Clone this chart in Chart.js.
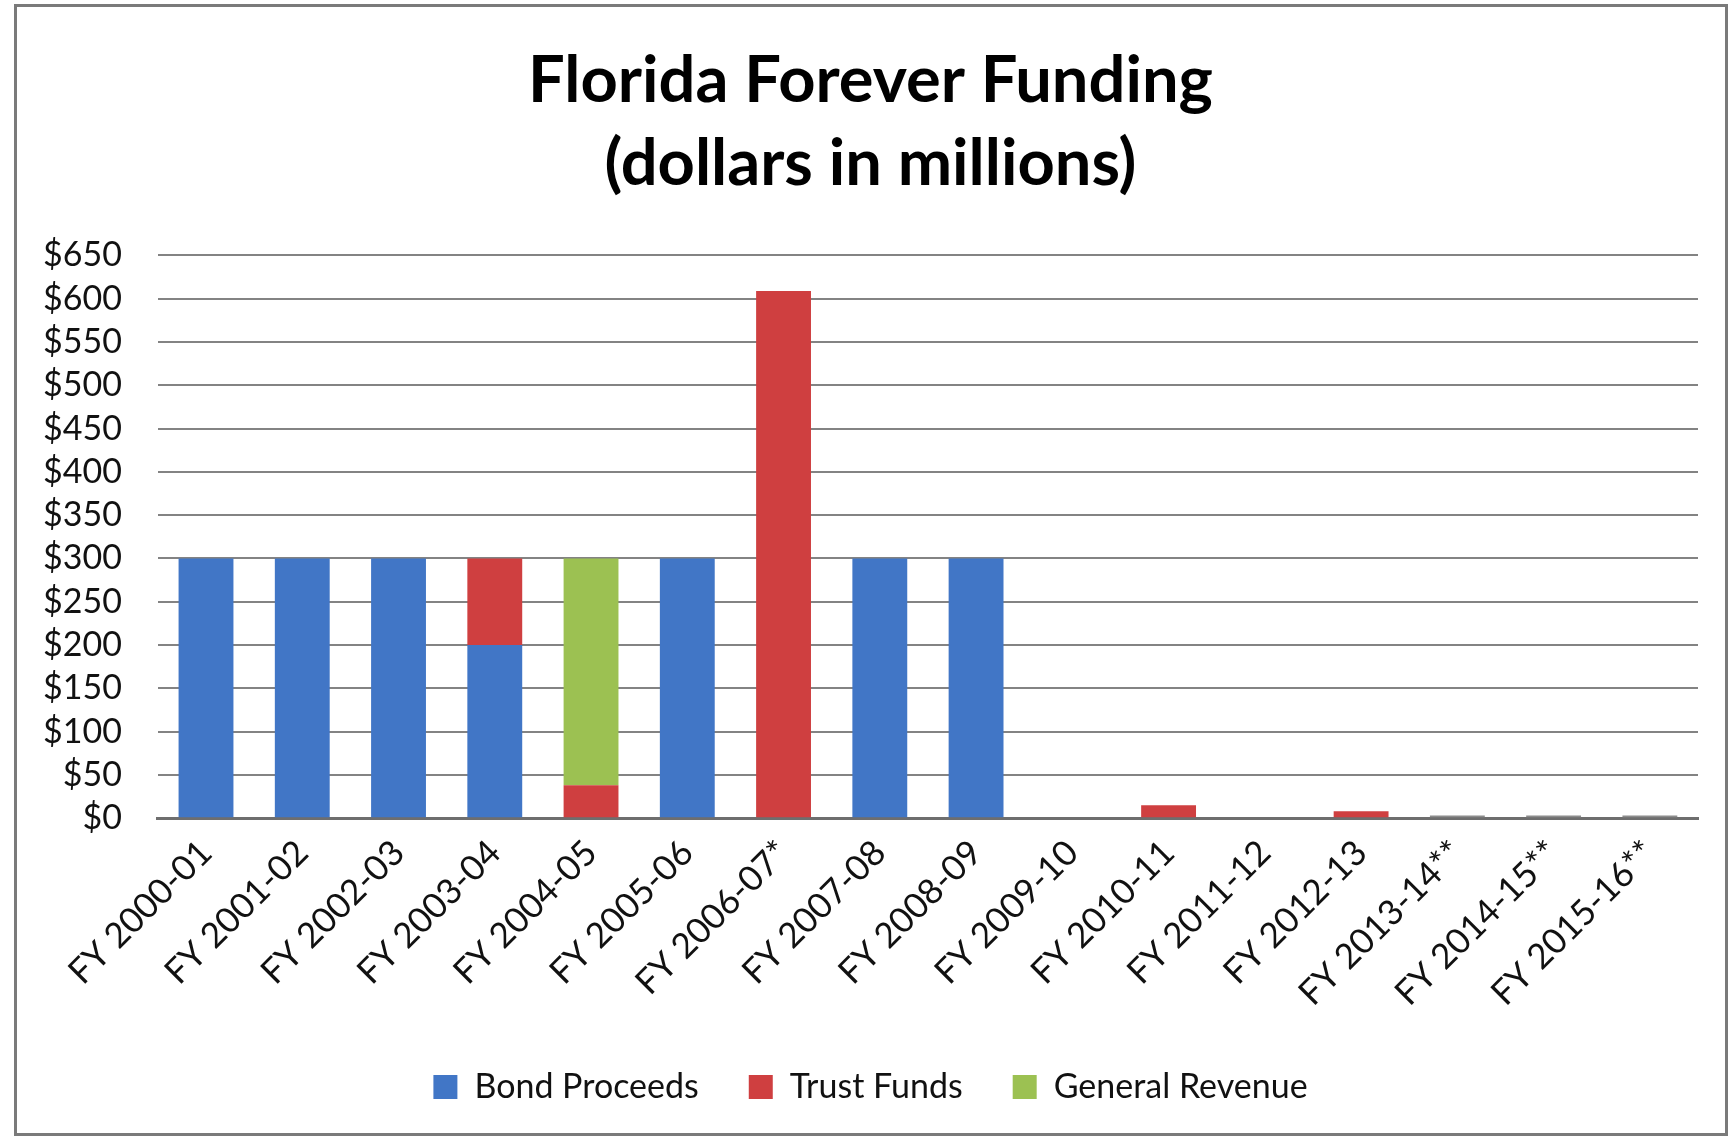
<!DOCTYPE html>
<html>
<head>
<meta charset="utf-8">
<script src="https://cdn.jsdelivr.net/npm/chart.js@4"></script>
<style>
  html, body { margin: 0; padding: 0; background: #fff; }
  #frame {
    position: absolute; left: 14px; top: 4px; width: 1714px; height: 1132px;
    border: 3px solid #7a7a7a; box-sizing: border-box; background: #fff;
  }
  #wrap { position: absolute; left: 0; top: 0; right: 0; bottom: 0; }
</style>
</head>
<body>
<div id="frame"><div id="wrap"><canvas id="bar-chart"></canvas></div></div>
<script>
const categories = ["FY 2000-01","FY 2001-02","FY 2002-03","FY 2003-04","FY 2004-05","FY 2005-06",
  "FY 2006-07*","FY 2007-08","FY 2008-09","FY 2009-10","FY 2010-11","FY 2011-12","FY 2012-13",
  "FY 2013-14**","FY 2014-15**","FY 2015-16**"];
const bondProceeds   = [300,300,300,200,0,300,0,300,300,0,0,0,0,0,0,0];
const trustFunds     = [0,0,0,100,38,0,609,0,0,0,15,0,8,3,3,3];
const generalRevenue = [0,0,0,0,262,0,0,0,0,0,0,0,0,0,0,0];
const yTicks = [0,50,100,150,200,250,300,350,400,450,500,550,600,650];

const font = "Lato, 'Open Sans', sans-serif";
// the last three trust bars look grey in the original
const trustColors = categories.map((c, i) => i >= 13 ? "#8c8c8c" : "#CF3F40");

new Chart(document.getElementById("bar-chart"), {
    type: 'bar',
    data: {
      labels: categories,
      datasets: [
        { label: "Bond Proceeds", data: bondProceeds, backgroundColor: "#4176C6" },
        { label: "Trust Funds", data: trustFunds, backgroundColor: trustColors },
        { label: "General Revenue", data: generalRevenue, backgroundColor: "#9CC152" }
      ]
    },
    options: {
      responsive: true,
      maintainAspectRatio: false,
      animation: false,
      layout: { padding: { left: 26, right: 27, top: 0, bottom: 19 } },
      datasets: { bar: { categoryPercentage: 1, barPercentage: 0.57 } },
      scales: {
        x: {
          stacked: true,
          grid: { display: false },
          border: { display: true, color: "#6e6e6e", width: 3 },
          ticks: {
            color: "#111", font: { family: font, size: 35 },
            minRotation: 45, maxRotation: 45, padding: 6
          },
          // let the first rotated label run under the y labels, like Excel does
          afterFit: scale => {
            scale.paddingLeft = 0;
            if (scale._margins) scale._margins.left = 0;
          }
        },
        y: {
          stacked: true,
          min: 0, max: 650,
          afterBuildTicks: axis => { axis.ticks = yTicks.map(v => ({ value: v })); },
          // chart.js reserves the tick padding twice; drop the unused outer part
          afterFit: axis => { axis.width -= axis.options.ticks.padding; },
          grid: { color: "#838383", lineWidth: 2, drawTicks: false },
          border: { display: false },
          ticks: {
            autoSkip: false,
            color: "#111", font: { family: font, size: 34, lineHeight: 1 }, padding: 36,
            callback: v => "$" + v
          }
        }
      },
      plugins: {
        title: {
          display: true,
          text: ["Florida Forever Funding", "(dollars in millions)"],
          color: "#000",
          font: { family: font, size: 65, weight: 'bold', lineHeight: 1.28 },
          padding: { top: 32, bottom: 50 }
        },
        legend: {
          position: 'bottom',
          labels: {
            color: "#111", font: { family: font, size: 34 },
            boxWidth: 24, boxHeight: 24, padding: 50
          }
        },
        tooltip: { enabled: false }
      }
    }
});
</script>
</body>
</html>
